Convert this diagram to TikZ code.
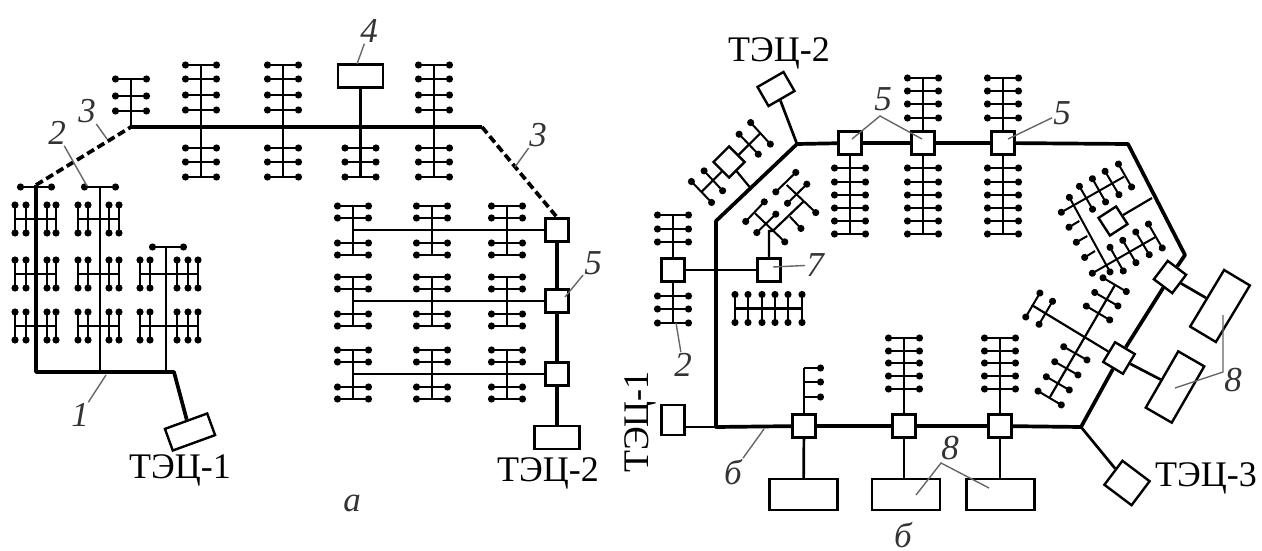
\documentclass[tikz,border=0pt]{standalone}
\usepackage{fontspec}
\setmainfont{Liberation Serif}
\usetikzlibrary{arrows.meta}

\begin{document}
\begin{tikzpicture}[
  x=1pt, y=-1pt,
  font=\fontsize{36}{36}\selectfont,
  mainline/.style={line width=3.7pt},
  feed/.style={line width=2.7pt},
  wire/.style={line width=2.2pt},
  tie/.style={line width=2pt, {Circle[length=7pt]}-{Circle[length=7pt]}},
  tieend/.style={line width=2pt, -{Circle[length=7pt]}},
  lead/.style={line width=1.4pt, black!60},
  box/.style={draw, fill=white, line width=2.4pt, inner sep=0pt, minimum width=23pt, minimum height=23pt},
  source/.style={box, minimum width=45pt},
  load/.style={box, minimum width=68pt, minimum height=31pt},
  num/.style={font=\fontsize{35}{35}\selectfont\itshape, inner sep=1pt, black!80}
]
\useasboundingbox (0,0) rectangle (1262,551);

\node[source, rotate=20] (tec1a) at (190,432) {};
\node[source] (tec2a) at (557,437.5) {};
\node[source] (plant4) at (360.5,76) {};
\node[box] (suba1) at (557,230) {};
\node[box] (suba2) at (557,301) {};
\node[box] (suba3) at (557,374) {};
\coordinate (a0) at (36,372);
\coordinate (a1) at (174,372);
\coordinate (a2) at (36,185);
\coordinate (a3) at (131,127);
\coordinate (a4) at (482,127);

\draw[mainline, line join=round] (a2) -- (a0) -- (a1) -- (tec1a);
\draw[mainline] (a3) -- (a4);
\draw[mainline, dash pattern=on 8pt off 4pt] (a2) -- (a3);
\draw[mainline, dash pattern=on 8pt off 4pt] (a4) -- (suba1.north);
\draw[mainline] (suba1) -- (suba2);
\draw[mainline] (suba2) -- (suba3);
\draw[mainline] (suba3) -- (tec2a);

\draw[wire] (131,79) -- (a3);
\foreach \ry in {79,96,111} \draw[tie] (112,\ry) -- (150,\ry);
\foreach \sx in {201,283,434} {
  \draw[wire] (\sx,65) -- (\sx,177);
  \foreach \ry in {65,79,95,110,148,162,177} \draw[tie] (\sx-19,\ry) -- (\sx+19,\ry);
}
\draw[feed] (plant4) -- (360.5,177);
\foreach \ry in {148,162,177} \draw[tie] (341.5,\ry) -- (379.5,\ry);

\foreach \row/\cy in {1/230,2/301,3/374} {
  \coordinate (rowend\row) at (353,\cy);
  \draw[wire] (rowend\row) -- (suba\row);
  \foreach \sx in {353,432,507} {
    \draw[wire] (\sx,\cy-24) -- (\sx,\cy+25);
    \foreach \ry in {-24,-12,13,25} \draw[tie] (\sx-19,\cy+\ry) -- (\sx+19,\cy+\ry);
  }
}

\draw[wire] (100,187) -- (100,372);
\draw[wire] (166,247) -- (166,372);
\draw[tie] (17,187) -- (55,187);
\draw[tie] (81,187) -- (119,187);
\draw[tie] (149,247) -- (187,247);
\foreach \ry in {219,274,326} {
  \draw[wire] (15,\ry) -- (56,\ry);
  \foreach \rx in {15,26,47,56} \draw[tie] (\rx,\ry-17.5) -- (\rx,\ry+17.5);
  \draw[wire] (78,\ry) -- (119,\ry);
  \foreach \rx in {78,88,109,119} \draw[tie] (\rx,\ry-17.5) -- (\rx,\ry+17.5);
}
\foreach \ry in {274,326} {
  \draw[wire] (140,\ry) -- (198,\ry);
  \foreach \rx in {140,150,177,188,198} \draw[tie] (\rx,\ry-17.5) -- (\rx,\ry+17.5);
}

\node (tec1text) at (180,470) {ТЭЦ-1};
\node (tec2text) at (548,473) {ТЭЦ-2};
\node[num] (parta) at (352,503) {а};

\node[source, minimum width=30pt, minimum height=22pt, rotate=30] (tec2b) at (776,89) {};
\node[box, minimum height=30pt] (tec1b) at (673,420) {};
\node[box, minimum width=34pt, minimum height=30pt, rotate=-37] (tec3b) at (1127,483) {};
\node[box] (subtop1) at (850,143) {};
\node[box] (subtop2) at (923,143) {};
\node[box] (subtop3) at (1003,143) {};
\node[box] (subbot1) at (804,426) {};
\node[box] (subbot2) at (904,426) {};
\node[box] (subbot3) at (1000,426) {};
\node[box, rotate=-37] (subr1) at (1170,277) {};
\node[box, rotate=-31] (subr2) at (1119,358) {};
\node[box] (subl) at (673,270) {};
\node[box] (sub7) at (769,270) {};
\node[load] (loadb1) at (803.5,494.5) {};
\node[load] (loadb2) at (906,494.5) {};
\node[load] (loadb3) at (1000.5,494.5) {};
\node[load, minimum width=66pt, minimum height=30pt, rotate=59] (loadr1) at (1220,306) {};
\node[load, minimum width=65pt, minimum height=30pt, rotate=60] (loadr2) at (1175,387) {};
\coordinate (b0) at (716,427);
\coordinate (b1) at (716,221);
\coordinate (b2) at (797,144);
\coordinate (b3) at (1128,144);
\coordinate (b4) at (1185,255);
\coordinate (b5) at (1081,427);

\draw[mainline, line join=round] (subr1) -- (b4) -- (b3) -- (subtop3);
\draw[mainline] (subtop3) -- (subtop2);
\draw[mainline] (subtop2) -- (subtop1);
\draw[mainline, line join=round] (subtop1) -- (b2) -- (b1) -- (b0) -- (subbot1);
\draw[mainline] (subbot1) -- (subbot2);
\draw[mainline] (subbot2) -- (subbot3);
\draw[mainline, line join=round] (subbot3) -- (b5) -- (subr2);
\draw[mainline] (subr2) -- (subr1);
\draw[feed] (tec2b) -- (b2);
\draw[feed] (tec1b.east |- b0) -- (b0);
\draw[feed] (b5) -- (tec3b);
\draw[feed] (subl) -- (sub7);
\draw[feed] (subr1) -- (loadr1);
\draw[feed] (subr2) -- (loadr2);
\draw[feed] (subbot1) -- (loadb1);
\draw[feed] (subbot2.south) -- (subbot2.south |- loadb2.north);
\draw[feed] (subbot3.south) -- (subbot3.south |- loadb3.north);

\foreach \sx in {850,923,1003} {
  \draw[wire] (\sx,154) -- (\sx,234);
  \foreach \ry in {168,182,195,208,221,234} \draw[tie] (\sx-19,\ry) -- (\sx+19,\ry);
}
\foreach \sx in {923,1003} {
  \draw[wire] (\sx,78) -- (\sx,132);
  \foreach \ry in {78,91,104,118} \draw[tie] (\sx-19,\ry) -- (\sx+19,\ry);
}
\foreach \sx in {904,1000} {
  \draw[wire] (\sx,338) -- (\sx,415);
  \foreach \ry in {338,351,363,376,389} \draw[tie] (\sx-19,\ry) -- (\sx+19,\ry);
}
\draw[wire] (804,368) -- (804,415);
\foreach \ry in {368,382,397} \draw[tieend] (804,\ry) -- (824,\ry);
\draw[wire] (673,215) -- (673,259);
\foreach \ry in {215,229,242} \draw[tie] (654,\ry) -- (692,\ry);
\draw[wire] (673,281) -- (673,323);
\foreach \ry in {296,309,323} \draw[tie] (654,\ry) -- (692,\ry);
\draw[wire] (735,308.5) -- (802,308.5);
\foreach \rx in {735,748,762,775,788,802} \draw[tie] (\rx,291) -- (\rx,326);

\coordinate (d0) at (750,187.5);
\draw[wire] (760.3,133.3) -- (701.3,192);
\node[box, minimum width=22pt, minimum height=22pt, rotate=45] (subd) at (729,162) {};
\draw[wire] (subd) -- (d0);
\draw[tie] (748.3,120) -- (772.7,146.7);
\draw[tie] (736.7,131.7) -- (760.7,156.7);
\draw[tie] (701.7,168.3) -- (725,193.3);
\draw[tie] (689,179) -- (714,205);

\coordinate (e0) at (772.7,231);
\draw[wire] (sub7.north) -- (sub7.north |- e0) -- (e0) -- (803.3,201.7);
\draw[tie] (743.3,224) -- (766.7,199.3);
\draw[tie] (754.3,235) -- (778.3,211.7);
\draw[tie] (773.3,194.3) -- (798.3,170);
\draw[tie] (785,205.7) -- (809.3,181.7);
\draw[tieend] (755,213.3) -- (787.3,244.3);
\draw[tieend] (786.7,185) -- (818.3,215);
\draw[tieend] (790,216.7) -- (803.3,231);

\coordinate (f0) at (1152,198);
\node[box, minimum width=21pt, minimum height=21pt, rotate=33] (subf) at (1113,221) {};
\draw[wire] (subf) -- (f0);
\draw[tie] (1067.7,194.3) -- (1111.7,275);
\draw[tie] (1077.7,183.3) -- (1094.3,212.3);
\draw[tie] (1090.7,175.7) -- (1107.3,205);
\draw[tie] (1103.3,168.3) -- (1120.7,197.7);
\draw[tie] (1116.7,161) -- (1133.3,190);
\draw[tieend] (1124,176.7) -- (1058.3,214);
\draw[tieend] (1079.3,221) -- (1066,229);
\draw[tieend] (1087.3,236) -- (1073.3,244);
\draw[tieend] (1095,251) -- (1081.7,259.3);
\draw[tieend] (1155,237.3) -- (1089.3,275);
\draw[tie] (1108.3,244.3) -- (1125,274);
\draw[tie] (1121,237.3) -- (1137.7,265.7);
\draw[tie] (1134,229) -- (1151,257.7);
\draw[tie] (1146.7,221) -- (1164,251);

\coordinate (g0) at (1031.7,305);
\draw[wire] (g0) -- (subr2);
\draw[tie] (1024,320) -- (1041.7,290);
\draw[tie] (1037.3,327.3) -- (1054.3,298.3);
\draw[wire] (1050,397) -- (1115,285);
\draw[tie] (1100,276) -- (1129.3,293.3);
\draw[tie] (1091.7,290.7) -- (1121,307.7);
\draw[tie] (1083.3,304.3) -- (1112.7,321.7);
\draw[tie] (1060.7,345) -- (1090,361.7);
\draw[tie] (1051.7,360) -- (1081,376.7);
\draw[tie] (1043.3,375) -- (1072.3,391.7);
\draw[tie] (1035,389.3) -- (1064.3,406.7);

\node (tec2btext) at (779,53) {ТЭЦ-2};
\node[rotate=90] (tec1btext) at (640,422) {ТЭЦ-1};
\node (tec3btext) at (1206,478) {ТЭЦ-3};
\node[num] (partb) at (903,535) {б};

\foreach \nm/\txt/\x/\y in {na1/1/80/415, na2/2/57/133, nal/3/87/111, na4/4/369/31, nar/3/538/135, na5/5/593/263,
    nb7/7/815/265, nb2/2/683/365, nb6/б/733/472, nb5r/5/1062/113, nb8d/8/950/448, nb8r/8/1233/380, nb5t/5/883/99}
  \node[num] (\nm) at (\x,\y) {\txt};
\foreach \nm/\x/\y in {na1/106/375, na2/87/186, nal/107/139, na4/357/64, nar/515/167, na5/565/297,
    nb7/773/267, nb2/676/323, nb6/764/429, nb5r/1008/139}{
  \coordinate (end\nm) at (\x,\y);
  \draw[lead] (\nm) -- (end\nm);
}
\coordinate (vert5) at (880,116);
\coordinate (leg5a) at (852,139);
\coordinate (leg5b) at (922,139);
\draw[lead] (leg5a) -- (vert5) -- (leg5b);
\coordinate (vert8) at (941,463);
\coordinate (leg8a) at (916,495);
\coordinate (leg8b) at (989,488);
\draw[lead] (leg8a) -- (vert8) -- (leg8b);
\coordinate (vert8r) at (1223,372);
\coordinate (leg8c) at (1223,315);
\coordinate (leg8d) at (1175,388);
\draw[lead] (leg8c) -- (vert8r) -- (leg8d);
\end{tikzpicture}
\end{document}
